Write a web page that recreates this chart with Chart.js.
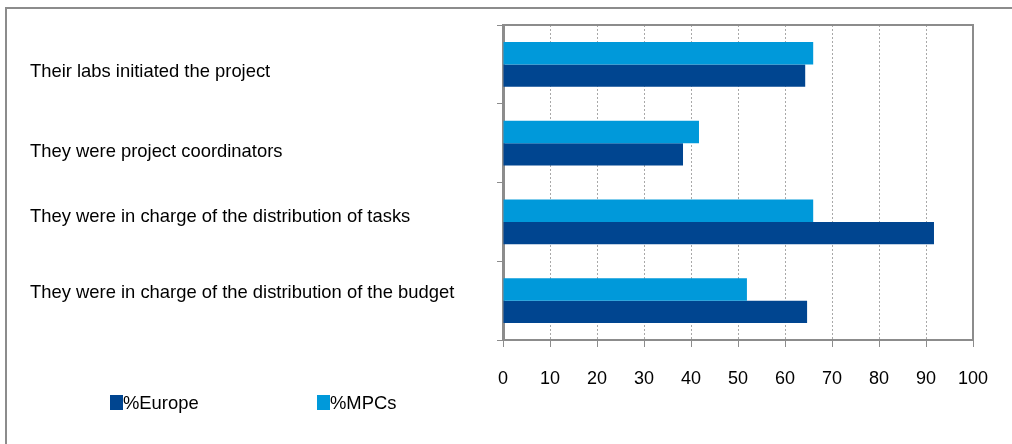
<!DOCTYPE html>
<html>
<head>
<meta charset="utf-8">
<script src="https://cdn.jsdelivr.net/npm/chart.js@4/dist/chart.umd.min.js"></script>
<style>
  html, body { margin: 0; padding: 0; background: #fff; }
  #wrap { position: relative; width: 1012px; height: 444px; overflow: hidden; }
  #frame {
    position: absolute; left: 5px; top: 7px; width: 1020px; height: 460px;
    border: 2px solid #8c8c8c; box-sizing: border-box;
  }
  canvas { position: absolute; left: 0; top: 0; }
  #legend ul { list-style: none; margin: 0; padding: 0; }
  #legend li {
    position: absolute; top: 393px; font: 18.4px "Liberation Sans", Arial, sans-serif;
    color: #000; line-height: 20px; white-space: nowrap;
  }
  #legend li span {
    display: inline-block; width: 13px; height: 15px; vertical-align: -1px; margin-right: 0;
  }
</style>
</head>
<body>
<div id="wrap">
  <div id="frame"></div>
  <canvas id="chart" width="1012" height="444"></canvas>
  <div id="legend"></div>
</div>
<script>
const categories = [
  'Their labs initiated the project',
  'They were project coordinators',
  'They were in charge of the distribution of tasks',
  'They were in charge of the distribution of the budget',
]
const mpcsValues = [66, 41.7, 66, 51.9]
const europeValues = [64.3, 38.3, 91.7, 64.7]
const xTicks = [0, 10, 20, 30, 40, 50, 60, 70, 80, 90, 100]

const FONT = '"Liberation Sans", Arial, sans-serif'
const AXIS_GREY = '#8c8c8c'

// top + right edges of the plot box
const frameLines = {
  id: 'frameLines',
  afterDatasetsDraw(chart) {
    const { ctx, chartArea } = chart
    ctx.save()
    ctx.strokeStyle = AXIS_GREY
    ctx.lineWidth = 2
    ctx.beginPath()
    ctx.moveTo(chartArea.left, chartArea.top)
    ctx.lineTo(chartArea.right, chartArea.top)
    ctx.lineTo(chartArea.right, chartArea.bottom)
    ctx.stroke()
    ctx.restore()
  },
}

// category labels, left aligned; the original's text boxes sit a bit off the band centre
const categoryLabels = {
  id: 'categoryLabels',
  afterDraw(chart) {
    const { ctx } = chart
    const y = chart.scales.y
    const nudge = [8, 9, -5, -8]
    ctx.save()
    ctx.font = `18.4px ${FONT}`
    ctx.fillStyle = '#000'
    ctx.textAlign = 'left'
    ctx.textBaseline = 'middle'
    chart.data.labels.forEach((label, i) => {
      ctx.fillText(label, y.left, y.getPixelForValue(i) + nudge[i])
    })
    ctx.restore()
  },
}

// html legend, Europe first like the original
const legendPlugin = {
  id: 'htmlLegend',
  afterInit(chart) {
    const ul = document.createElement('ul')
    const lefts = [110, 317]
    const ds = chart.data.datasets.slice().reverse()
    ds.forEach((d, i) => {
      ul.innerHTML += `<li style="left:${lefts[i]}px"><span style="background-color:${d.backgroundColor}"></span>${d.label}</li>`
    })
    document.getElementById('legend').appendChild(ul)
  },
}

new Chart(document.getElementById('chart'), {
  type: 'bar',
  data: {
    labels: categories,
    datasets: [
      { label: '%MPCs', data: mpcsValues, backgroundColor: '#0099da' },
      { label: '%Europe', data: europeValues, backgroundColor: '#004590' },
    ],
  },
  options: {
    indexAxis: 'y',
    responsive: false,
    animation: false,
    devicePixelRatio: 1,
    categoryPercentage: 0.57,
    barPercentage: 1,
    layout: { padding: { left: 30, top: 25, right: 39, bottom: 0 } },
    plugins: {
      legend: { display: false },
      tooltip: { enabled: false },
    },
    scales: {
      x: {
        min: 0,
        max: 100,
        afterBuildTicks(scale) {
          scale.ticks = xTicks.map(v => ({ value: v }))
        },
        afterFit(scale) { scale.height = 104 },
        grid: {
          color: '#a8a8a8',
          lineWidth: 1,
          tickColor: AXIS_GREY,
          tickLength: 7,
          tickWidth: 1,
        },
        border: { display: true, color: AXIS_GREY, width: 2, dash: [2, 2] },
        ticks: { color: '#000', font: { family: FONT, size: 18 }, padding: 21, maxRotation: 0 },
      },
      y: {
        afterFit(scale) { scale.width = 473 },
        grid: {
          drawOnChartArea: false,
          tickColor: AXIS_GREY,
          tickLength: 6,
          tickWidth: 1,
        },
        border: { display: true, color: AXIS_GREY, width: 3 },
        ticks: { display: false },
      },
    },
  },
  plugins: [frameLines, categoryLabels, legendPlugin],
})
</script>
</body>
</html>
